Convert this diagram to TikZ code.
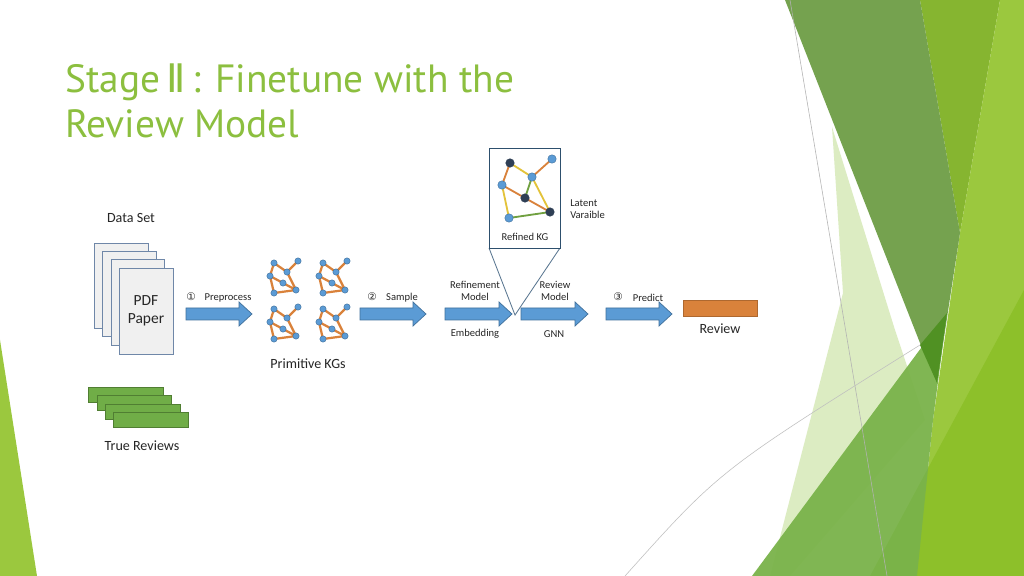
\documentclass[tikz,border=0pt]{standalone}
\usepackage{fontspec}
\setmainfont{Carlito}
\newfontfamily\titlefont{PT Sans}
\newfontfamily\symfont{DejaVu Sans}
\begin{document}
\begin{tikzpicture}[x=0.025cm,y=-0.025cm,
  lbl/.style={inner sep=0pt,font=\fontsize{7.5}{9}\selectfont,align=center,text=black!85},
  big/.style={inner sep=0pt,font=\fontsize{11}{13}\selectfont,align=center,text=black!85},
  sheet/.style={draw=sheetedge,fill=gray!12,line width=0.5pt},
  rev/.style={draw=revedge,fill=revgreen,line width=0.4pt},
  barrow/.style={fill=arrowblue,draw=arrowedge,line width=0.5pt},
  kgn/.style={circle,fill=nodeblue,draw=arrowedge,line width=0.3pt,inner sep=0pt,minimum size=4.5pt},
  kgd/.style={circle,fill=darknode,draw=darknode,inner sep=0pt,minimum size=6pt},
  kgb/.style={circle,fill=nodeblue,draw=arrowedge,line width=0.3pt,inner sep=0pt,minimum size=6pt},
  kge/.style={draw=kgorange,line width=1.6pt},
  ye/.style={draw=kgyellow,line width=1.3pt},
  ge/.style={draw=kggreen,line width=1.3pt},
  oe/.style={draw=kgorange,line width=1.3pt}]
\definecolor{arrowblue}{HTML}{5B9BD5}
\definecolor{arrowedge}{HTML}{41719C}
\definecolor{nodeblue}{HTML}{5B9BD5}
\definecolor{darknode}{HTML}{2F3F55}
\definecolor{kgorange}{HTML}{D9823B}
\definecolor{kgyellow}{HTML}{E3C33A}
\definecolor{kggreen}{HTML}{70A040}
\definecolor{titlegreen}{HTML}{8CBF3F}
\definecolor{sheetedge}{HTML}{6F87A8}
\definecolor{revgreen}{HTML}{70AD47}
\definecolor{revedge}{HTML}{507E32}
\useasboundingbox (0,0) rectangle (1024,576);
\fill[white] (0,0) rectangle (1024,576);
% background
\fill[color={rgb,255:red,134;green,181;blue,48}] (920,0) -- (1000,0) -- (960,233) -- cycle;
\fill[color={rgb,255:red,155;green,200;blue,62}] (1000,0) -- (1024,0) -- (1024,576) -- (917,576) -- (933,420) -- (960,233) -- cycle;
\fill[color={rgb,255:red,141;green,192;blue,42}] (870,576) -- (1024,290) -- (1024,576) -- cycle;
\fill[color={rgb,255:red,217;green,234;blue,188},opacity=0.9] (832,127) -- (895,330) -- (925,420) -- (830,530) -- (790,576) -- (770,576) -- (843,293) -- cycle;
\fill[color={rgb,255:red,110;green,158;blue,70},opacity=0.95] (785,0) -- (920,0) -- (960,233) -- (937,383) -- (920,343) -- cycle;
\fill[color={rgb,255:red,122;green,179;blue,74},opacity=0.95] (752,576) -- (947,313) -- (933,420) -- (917,576) -- cycle;
\fill[color={rgb,255:red,80;green,145;blue,35}] (920,345) -- (947,313) -- (937,383) -- cycle;
\draw[gray!60,line width=0.4pt] (790,0) -- (887,576);
\draw[gray!50,line width=0.4pt] (625,576) .. controls (720,470) .. (920,345);
\fill[color={rgb,255:red,155;green,200;blue,62}] (0,340) -- (37,576) -- (0,576) -- cycle;
% title
\node[anchor=base west,inner sep=0pt,text=titlegreen,font=\fontsize{28}{34}\selectfont\titlefont] (t1) at (65,93) {Stage\,{\symfont Ⅱ}\,: Finetune with the};
\node[anchor=base west,inner sep=0pt,text=titlegreen,font=\fontsize{28}{34}\selectfont\titlefont] (t2) at (65,138) {Review Model};
% data set
\node[big,font=\fontsize{10}{12}\selectfont] (ds) at (131,218) {Data Set};
\draw[sheet] (94,243) rectangle (148,328);
\draw[sheet] (102,251) rectangle (156,336);
\draw[sheet] (111,259) rectangle (164,345);
\draw[sheet] (119,268) rectangle (173,354);
\node[big] (pdf) at (146,311) {PDF\\Paper};
\draw[rev] (88,387) rectangle (163,402);
\draw[rev] (97,395) rectangle (171,410);
\draw[rev] (105,404) rectangle (180,419);
\draw[rev] (113,412) rectangle (188,427);
\node[big,font=\fontsize{10}{12}\selectfont] (tr) at (142,446) {True Reviews};
% block arrows
\foreach \a/\b in {186/252,360/426,445/512,521/588,606/672}{
  \fill[barrow] (\a,308) -- (\b-13,308) -- (\b-13,302) -- (\b,314) -- (\b-13,326) -- (\b-13,320) -- (\a,320) -- cycle;
}
\node[lbl,font=\fontsize{7.5}{9}\selectfont\symfont] (n1) at (191,297) {①};
\node[lbl] (pp) at (228,298) {Preprocess};
\node[lbl,font=\fontsize{7.5}{9}\selectfont\symfont] (n2) at (372,297) {②};
\node[lbl] (sa) at (402,298) {Sample};
\node[lbl] (rm) at (475,291) {Refinement\\Model};
\node[lbl] (em) at (475,334) {Embedding};
\node[lbl] (rvm) at (555,291) {Review\\Model};
\node[lbl] (gnn) at (554,334) {GNN};
\node[lbl,font=\fontsize{7.5}{9}\selectfont\symfont] (n3) at (618,297) {③};
\node[lbl] (pr) at (648,298) {Predict};
\fill[fill=kgorange,draw=kgorange!80!black,line width=0.4pt] (683,300) rectangle (757,316);
\node[big,font=\fontsize{10}{12}\selectfont] (rv) at (720,329) {Review};
% primitive KGs
\foreach \dx/\dy/\k in {0/0/a,49/0/b,0/46/c,49/46/d}{
 \begin{scope}[shift={(\dx,\dy)}]
  \coordinate (\k1) at (274,263);
  \coordinate (\k2) at (298,261);
  \coordinate (\k3) at (270,276);
  \coordinate (\k4) at (287,272);
  \coordinate (\k5) at (283,283);
  \coordinate (\k6) at (274,293);
  \coordinate (\k7) at (296,290);
  \draw[kge] (\k1) -- (\k4) (\k4) -- (\k2) (\k1) -- (\k3) (\k3) -- (\k6) (\k3) -- (\k5) (\k5) -- (\k7) (\k4) -- (\k7) (\k6) -- (\k7);
  \foreach \i in {1,...,7}{\node[kgn] (\k n\i) at (\k\i) {};}
 \end{scope}
}
\node[big,font=\fontsize{10}{12}\selectfont] (pk) at (308,364) {Primitive KGs};
% refined KG
\coordinate (tip) at (515,315);
\draw[arrowedge!60!gray,line width=0.6pt,fill=white] (489,248) -- (tip) -- (560,248);
\draw[arrowedge!70!black,line width=0.6pt,fill=white] (489,148) rectangle (560,248);
\coordinate (r1) at (510,163);
\coordinate (r2) at (552,159);
\coordinate (r3) at (532,177);
\coordinate (r4) at (502,185);
\coordinate (r5) at (525,198);
\coordinate (r6) at (550,212);
\coordinate (r7) at (509,218);
\draw[ye] (r1) -- (r3); \draw[oe] (r1) -- (r4); \draw[oe] (r3) -- (r2);
\draw[oe] (r4) -- (r5); \draw[oe] (r5) -- (r6); \draw[ge] (r3) -- (r5);
\draw[ye] (r3) -- (r6); \draw[ye] (r4) -- (r7); \draw[ge] (r7) -- (r6);
\node[kgd] (rn1) at (r1) {}; \node[kgb] (rn2) at (r2) {}; \node[kgb] (rn3) at (r3) {}; \node[kgb] (rn4) at (r4) {};
\node[kgd] (rn5) at (r5) {}; \node[kgd] (rn6) at (r6) {}; \node[kgb] (rn7) at (r7) {};
\node[lbl] (rkg) at (525,237) {Refined KG};
\node[lbl,align=left,anchor=west] (lv) at (570,209) {Latent\\Varaible};
\end{tikzpicture}
\end{document}
